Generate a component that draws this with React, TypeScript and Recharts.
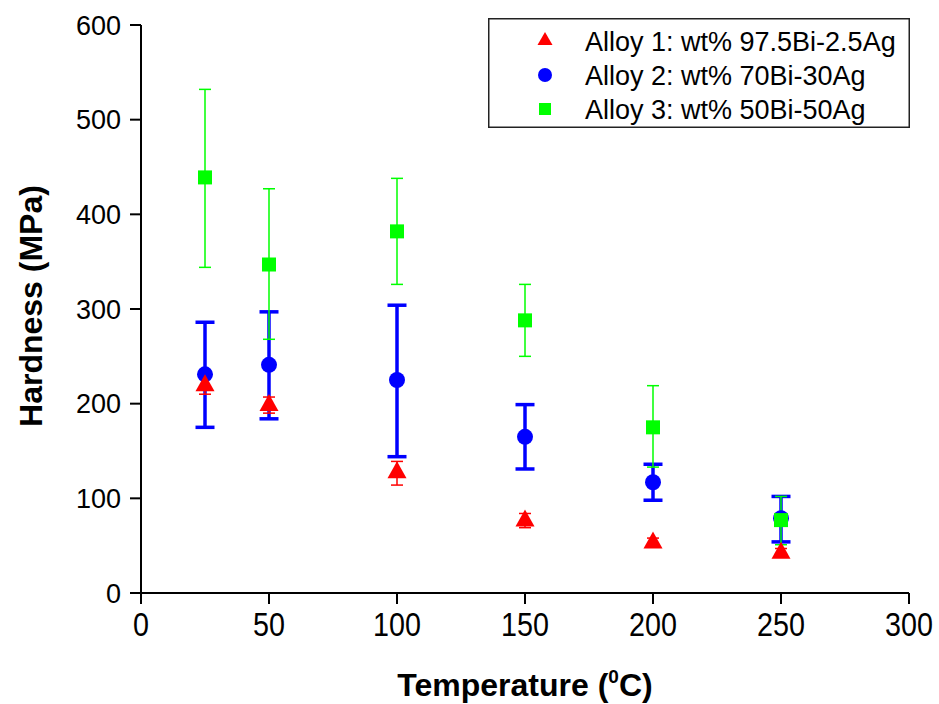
import React from "react";
import {
  ScatterChart,
  Scatter,
  XAxis,
  YAxis,
  ErrorBar,
  Legend
} from "recharts";

// temperatures (°C) shared by every alloy
const temps = [25, 50, 100, 150, 200, 250];

// Alloy 1: wt% 97.5Bi-2.5Ag
const alloy1 = [220, 199, 128, 77, 54, 43];
const alloy1Low = [210, 190, 114, 69, 50, 39];
const alloy1High = [230, 207, 139, 84, 58, 47];

// Alloy 2: wt% 70Bi-30Ag
const alloy2 = [231, 241, 225, 165, 117, 79];
const alloy2Low = [175, 184, 144, 131, 98, 54];
const alloy2High = [286, 297, 304, 199, 136, 102];

// Alloy 3: wt% 50Bi-50Ag
const alloy3 = [439, 347, 382, 288, 175, 77];
const alloy3Low = [344, 268, 326, 250, 133, 51];
const alloy3High = [532, 427, 438, 326, 219, 102];

const xTicks = [0, 50, 100, 150, 200, 250, 300];
const yTicks = [0, 100, 200, 300, 400, 500, 600];

const names = [
  "Alloy 1: wt% 97.5Bi-2.5Ag",
  "Alloy 2: wt% 70Bi-30Ag",
  "Alloy 3: wt% 50Bi-50Ag"
];

const RED = "#ff0000";
const BLUE = "#0000ff";
const GREEN = "#00ff00";
const FONT = "'Liberation Sans', Arial, Helvetica, sans-serif";

function build(vals: number[], low: number[], high: number[]) {
  return temps.map((t, i) => ({
    x: t,
    y: vals[i],
    err: [vals[i] - low[i], high[i] - vals[i]]
  }));
}

const data1 = build(alloy1, alloy1Low, alloy1High);
const data2 = build(alloy2, alloy2Low, alloy2High);
const data3 = build(alloy3, alloy3Low, alloy3High);

const Triangle = (props: any) => {
  const { cx, cy } = props;
  return (
    <polygon
      points={`${cx},${cy - 10.5} ${cx - 9.5},${cy + 6.5} ${cx + 9.5},${cy + 6.5}`}
      fill={RED}
    />
  );
};

const Dot = (props: any) => <circle cx={props.cx} cy={props.cy} r={8} fill={BLUE} />;

const Square = (props: any) => (
  <rect x={props.cx - 7} y={props.cy - 7} width={14} height={14} fill={GREEN} />
);

// x tick labels in the original are a tall, slightly condensed face
const XTick = (props: any) => {
  const { x, y, payload } = props;
  return (
    <g transform={`translate(${x},${y})`}>
      <text transform="scale(0.87,1)" textAnchor="middle" dy="0.71em" fontFamily={FONT} fontSize={33} fill="#000">
        {payload.value}
      </text>
    </g>
  );
};

const XTitle = (props: any) => {
  const { viewBox } = props;
  const cx = viewBox.x + viewBox.width / 2;
  return (
    <text x={cx} y={696} textAnchor="middle" fontFamily={FONT} fontWeight="bold" fontSize={32} fill="#000">
      Temperature (
      <tspan dy={-13} fontSize={19}>0</tspan>
      <tspan dy={13}>C)</tspan>
    </text>
  );
};

const YTitle = () => (
  <text
    transform="translate(42, 306) rotate(-90)"
    textAnchor="middle"
    fontFamily={FONT}
    fontWeight="bold"
    fontSize={32}
    fill="#000"
  >
    Hardness (MPa)
  </text>
);

const LegendBox = () => {
  const rows = [33, 67, 101];
  return (
    <svg width={422} height={110} style={{ display: "block" }}>
      <rect x={0.75} y={0.75} width={420.5} height={108.5} fill="#fff" stroke="#222" strokeWidth={1.5} />
      <polygon points={`57,${rows[0] - 19} 49.5,${rows[0] - 6} 64.5,${rows[0] - 6}`} fill={RED} />
      <circle cx={57} cy={rows[1] - 10} r={7} fill={BLUE} />
      <rect x={51} y={rows[2] - 16} width={12} height={12} fill={GREEN} />
      {names.map((n, i) => (
        <text key={n} x={97} y={rows[i]} fontFamily={FONT} fontSize={27} fill="#000">
          {n}
        </text>
      ))}
    </svg>
  );
};

export default function App() {
  return (
    <div style={{ position: "absolute", left: 0, top: 0, background: "#fff" }}>
      <ScatterChart width={939} height={704} margin={{ top: 25, right: 30, bottom: 0, left: 0 }}>
        <XAxis
          type="number"
          dataKey="x"
          domain={[0, 300]}
          ticks={xTicks}
          height={111}
          stroke="#000"
          strokeWidth={2}
          tickSize={11}
          tickMargin={9}
          tick={XTick}
          label={{ content: XTitle }}
        />
        <YAxis
          type="number"
          dataKey="y"
          domain={[0, 600]}
          ticks={yTicks}
          width={141}
          stroke="#000"
          strokeWidth={2}
          tickSize={11}
          tickMargin={9}
          tick={{ fill: "#000", fontSize: 27, fontFamily: FONT }}
          label={{ content: YTitle }}
        />
        <Legend
          layout="horizontal"
          verticalAlign="middle"
          align="center"
          content={LegendBox}
          wrapperStyle={{ left: 488, top: 18, width: 422, height: 110 }}
        />
        <Scatter name={names[1]} data={data2} shape={Dot} isAnimationActive={false}>
          <ErrorBar dataKey="err" direction="y" width={9.5} stroke={BLUE} strokeWidth={3.5} />
        </Scatter>
        <Scatter name={names[0]} data={data1} shape={Triangle} isAnimationActive={false}>
          <ErrorBar dataKey="err" direction="y" width={6} stroke={RED} strokeWidth={1.5} />
        </Scatter>
        <Scatter name={names[2]} data={data3} shape={Square} isAnimationActive={false}>
          <ErrorBar dataKey="err" direction="y" width={6} stroke={GREEN} strokeWidth={1.5} />
        </Scatter>
      </ScatterChart>
    </div>
  );
}
